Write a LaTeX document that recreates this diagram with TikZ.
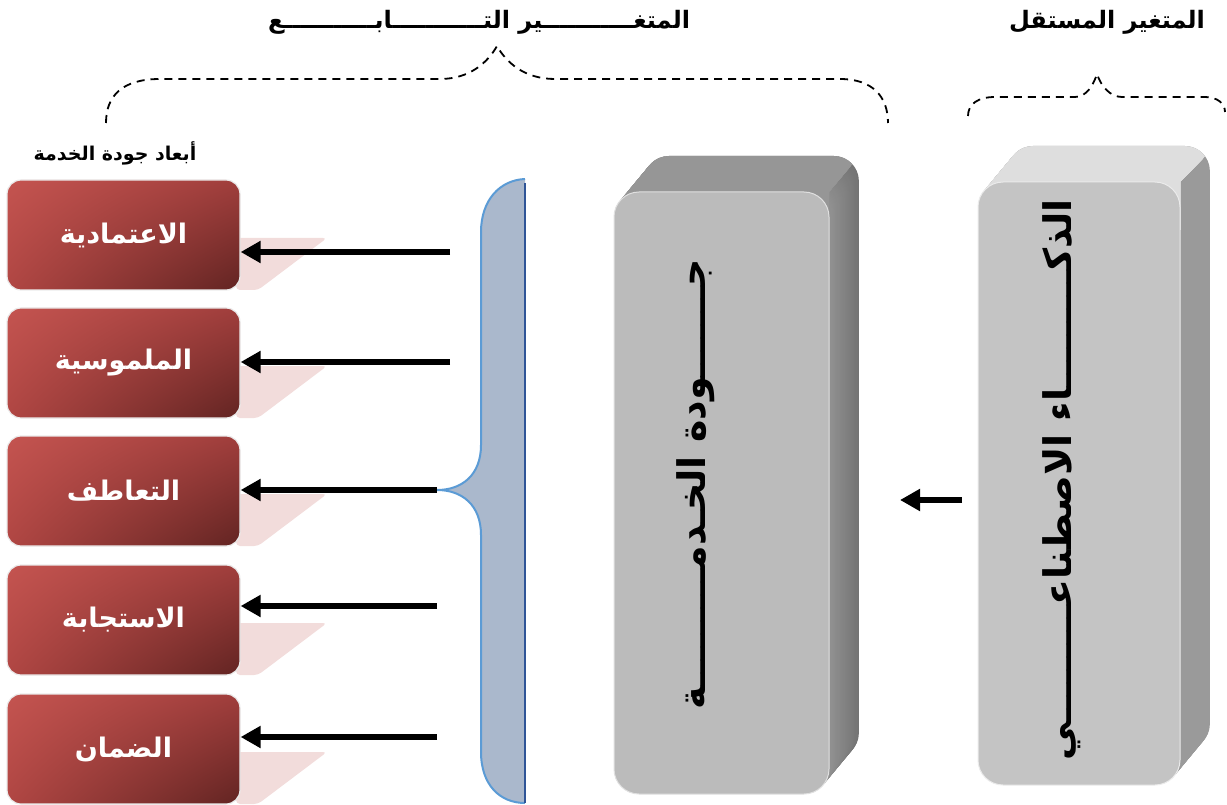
\documentclass[tikz,border=0pt]{standalone}
\usepackage{fontspec}
\newfontfamily\arabicfont[Script=Arabic]{DejaVu Sans}
\TeXXeTstate=1
\usetikzlibrary{arrows.meta,shadings}
\definecolor{redA}{RGB}{196,84,80}
\definecolor{redB}{RGB}{160,62,60}
\definecolor{redC}{RGB}{176,70,67}
\definecolor{redD}{RGB}{98,36,34}
\definecolor{shpink}{RGB}{242,220,219}
\definecolor{braceFill}{RGB}{170,184,204}
\definecolor{braceLine}{RGB}{91,155,213}
\definecolor{braceDark}{RGB}{47,85,151}
\definecolor{qFront}{RGB}{187,187,187}
\definecolor{qTop}{RGB}{150,150,150}
\definecolor{qSide}{RGB}{128,128,128}
\definecolor{aFront}{RGB}{196,196,196}
\definecolor{aTop}{RGB}{222,222,222}
\definecolor{aSide}{RGB}{154,154,154}
\begin{document}
\begin{tikzpicture}[x=1pt,y=-1pt,
  ar/.style={font=\arabicfont\bfseries},
  dimbox/.style={ar, rounded corners=14pt, minimum width=233pt, minimum height=110pt,
    inner sep=0pt, draw=black!8, line width=1.2pt, shade,
    upper left=redA, upper right=redB, lower left=redC, lower right=redD,
    text=white, font=\arabicfont\bfseries\fontsize{27}{30}\selectfont},
  arr/.style={line width=5.5pt, -{Triangle[length=20pt,width=21pt]}},
  dashbrace/.style={line width=1.8pt, dash pattern=on 8pt off 6pt},
  title/.style={ar, font=\arabicfont\bfseries\fontsize{24}{27}\selectfont},
  vtext/.style={rotate=90, font=\arabicfont\bfseries\fontsize{38}{42}\selectfont}
]
\useasboundingbox (0,0) rectangle (1227,805);

% titles
\node[title] (tdep) at (479,22) {\beginR المتغـــــــــــير التـــــــــــابـــــــــــع\endR};
\node[title] (tind) at (1107,22) {\beginR المتغير المستقل\endR};
\node[ar, font=\arabicfont\bfseries\fontsize{19}{22}\selectfont] (tdim) at (115,153) {\beginR أبعاد جودة الخدمة\endR};

% dashed braces
\draw[dashbrace] (106,123) .. controls (106,96) and (122,79) .. (160,79) -- (440,79)
  .. controls (470,79) and (488,62) .. (497,46) .. controls (506,62) and (524,79) .. (555,79)
  -- (840,79) .. controls (872,79) and (888,96) .. (888,123);
\draw[dashbrace] (968,116) .. controls (968,104) and (978,97) .. (995,97) -- (1075,97)
  .. controls (1086,97) and (1093,86) .. (1097,74) .. controls (1101,86) and (1110,97) .. (1122,97)
  -- (1205,97) .. controls (1218,97) and (1225,104) .. (1225,112);

% pink shadows
\foreach \t in {180,308,436,565,694}{
  \fill[shpink, rounded corners=4pt] (236,\t+58) -- (327,\t+58) -- (258,\t+110) -- (236,\t+110) -- cycle;
}

% dimension boxes
\node[dimbox] (d1) at (123.5,235) {\beginR الاعتمادية\endR};
\node[dimbox] (d2) at (123.5,363) {\beginR الملموسية\endR};
\node[dimbox] (d3) at (123.5,491) {\beginR التعاطف\endR};
\node[dimbox] (d4) at (123.5,620) {\beginR الاستجابة\endR};
\node[dimbox] (d5) at (123.5,749) {\beginR الضمان\endR};

% brace
\fill[braceFill] (525,179) .. controls (500,180) and (481,200) .. (481,232) -- (481,445)
  .. controls (481,475) and (462,490) .. (437,490) .. controls (462,490) and (481,505) .. (481,535)
  -- (481,752) .. controls (481,785) and (500,803) .. (525,803) -- cycle;
\draw[braceLine, line width=2pt] (525,179) .. controls (500,180) and (481,200) .. (481,232) -- (481,445)
  .. controls (481,475) and (462,490) .. (437,490) .. controls (462,490) and (481,505) .. (481,535)
  -- (481,752) .. controls (481,785) and (500,803) .. (525,803);
\draw[braceDark, line width=2.2pt] (525,183) -- (525,803);
\coordinate (bp) at (437,490);

% arrows to dimensions
\coordinate (s1) at (450,252);
\coordinate (s2) at (450,362);
\coordinate (s4) at (437,606);
\coordinate (s5) at (437,737);
\draw[arr] (s1) -- (s1 -| d1.east);
\draw[arr] (s2) -- (s2 -| d2.east);
\draw[arr] (bp) -- (bp -| d3.east);
\draw[arr] (s4) -- (s4 -| d4.east);
\draw[arr] (s5) -- (s5 -| d5.east);

% 3D box: service quality
\foreach \i in {36,35,...,1}{
  \pgfmathsetmacro{\m}{100-\i*0.8}
  \fill[qSide!\m!black!85!white, rounded corners=25pt] (614+\i*0.83,192-\i) rectangle (829+\i*0.83,794-\i);
}
\begin{scope}
  \clip (560,100) -- (906,100) -- (829,192) -- (829,240) -- (560,240) -- cycle;
  \foreach \i in {36,35,...,1}{
    \fill[qTop, rounded corners=25pt] (614+\i*0.83,192-\i) rectangle (829+\i*0.83,794-\i);
  }
\end{scope}
\node[fill=qFront, draw=black!12, line width=1pt, rounded corners=25pt,
  minimum width=215pt, minimum height=602pt, inner sep=0pt] (q) at (721.5,493) {};
\node[vtext] (qt) at (696,484) {\beginR جـــــــودة الخـدمـــــــــة\endR};

% 3D box: AI
\foreach \i in {36,35,...,1}{
  \fill[aSide, rounded corners=25pt] (978+\i*0.83,182-\i) rectangle (1180+\i*0.83,785-\i);
}
\begin{scope}
  \clip (930,90) -- (1270,90) -- (1180,182) -- (1180,230) -- (930,230) -- cycle;
  \foreach \i in {36,35,...,1}{
    \fill[aTop, rounded corners=25pt] (978+\i*0.83,182-\i) rectangle (1180+\i*0.83,785-\i);
  }
\end{scope}
\node[fill=aFront, draw=black!8, line width=1pt, rounded corners=25pt,
  minimum width=202pt, minimum height=603pt, inner sep=0pt] (ai) at (1079,483.5) {};
\node[vtext] (ait) at (1062,480) {\beginR الذكـــــــــاء الاصطناعـــــــــي\endR};

% arrow AI -> quality
\coordinate (a0) at (962,500);
\coordinate (a1) at (900,500);
\draw[arr] (a0) -- (a1);
\end{tikzpicture}
\end{document}
